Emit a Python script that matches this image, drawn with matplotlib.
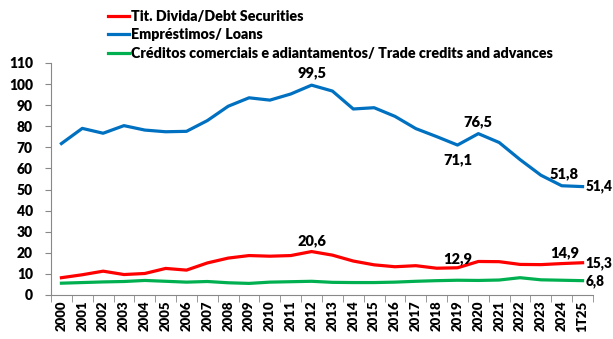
import matplotlib
matplotlib.use("Agg")
import matplotlib.pyplot as plt

plt.rcParams['font.family'] = ['Lato', 'DejaVu Sans']
W = 'heavy'
plt.rcParams['font.weight'] = W

categories = [str(y) for y in range(2000, 2025)] + ["1T25"]
debt = [8.2, 9.6, 11.3, 9.7, 10.2, 12.6, 11.8, 15.2, 17.5, 18.7, 18.4, 18.7, 20.6,
        18.9, 16.1, 14.3, 13.4, 13.9, 12.7, 12.9, 15.9, 15.8, 14.5, 14.4, 14.9, 15.3]
loans = [71.8, 79.0, 76.7, 80.3, 78.2, 77.4, 77.6, 82.7, 89.5, 93.5, 92.4, 95.3, 99.5,
         96.7, 88.2, 88.8, 84.7, 78.9, 75.1, 71.1, 76.5, 72.3, 64.2, 56.8, 51.8, 51.4]
trade = [5.6, 5.9, 6.2, 6.4, 6.9, 6.5, 6.1, 6.4, 5.8, 5.5, 6.1, 6.3, 6.5,
         6.0, 5.9, 5.9, 6.1, 6.5, 6.8, 7.0, 6.9, 7.1, 8.2, 7.2, 7.0, 6.8]
labels = ["Tit. Divida/Debt Securities", "Empréstimos/ Loans",
          "Créditos comerciais e adiantamentos/ Trade credits and advances"]
colors = ["#FF0000", "#0070C0", "#00B050"]

fig = plt.figure(figsize=(6.13, 3.39), dpi=100)
ax = fig.add_axes([51/613, 1-295/339, 542/613, 232/339])
x = list(range(len(categories)))
for s, lab, c in zip([debt, loans, trade], labels, colors):
    ax.plot(x, s, color=c, lw=2.3, label=lab)

ax.set_xlim(-0.5, len(categories)-0.5)
ax.set_ylim(0, 110)
ax.set_yticks(range(0, 111, 10))
ax.set_xticks(x)
ax.set_xticklabels(categories, rotation=90, fontsize=9.5, fontweight=W)
ax.set_xticks([i - 0.5 for i in range(len(categories)+1)], minor=True)
ax.tick_params(axis='x', which='major', length=0, pad=4)
ax.tick_params(axis='x', which='minor', length=5, color='#888888')
ax.tick_params(axis='y', length=4, color='#888888', labelsize=10, pad=9)
for t in ax.get_yticklabels():
    t.set_fontweight(W)
for sp in ['top', 'right']:
    ax.spines[sp].set_visible(False)
for sp in ['left', 'bottom']:
    ax.spines[sp].set_color('#888888')

fs = 10.5
def ann(i, s, text, dx, dy, ha='center', va='bottom', size=fs):
    ax.annotate(text, (i, s[i]), xytext=(dx, dy), textcoords='offset points',
                ha=ha, va=va, fontsize=size, fontweight=W)

ann(12, loans, "99,5", 0, 4)
ann(20, loans, "76,5", 0, 4)
ann(19, loans, "71,1", 0, -6, va='top')
ann(24, loans, "51,8", 2, 4)
ann(25, loans, "51,4", 2, 0, ha='left', va='center', size=9.8)
ann(12, debt, "20,6", 0, 3)
ann(19, debt, "12,9", 0, 2)
ann(24, debt, "14,9", 2, 3)
ann(25, debt, "15,3", 2, 0, ha='left', va='center', size=9.8)
ann(25, trade, "6,8", 2, 0, ha='left', va='center', size=9.8)

fig.legend(loc='upper left', bbox_to_anchor=(108/613, 1-10/339), frameon=False,
           handlelength=1.45, handletextpad=0.14, labelspacing=0.38,
           borderaxespad=0, borderpad=0, prop={'weight': W, 'size': 10.3})

fig.savefig("out.png", dpi=100)
